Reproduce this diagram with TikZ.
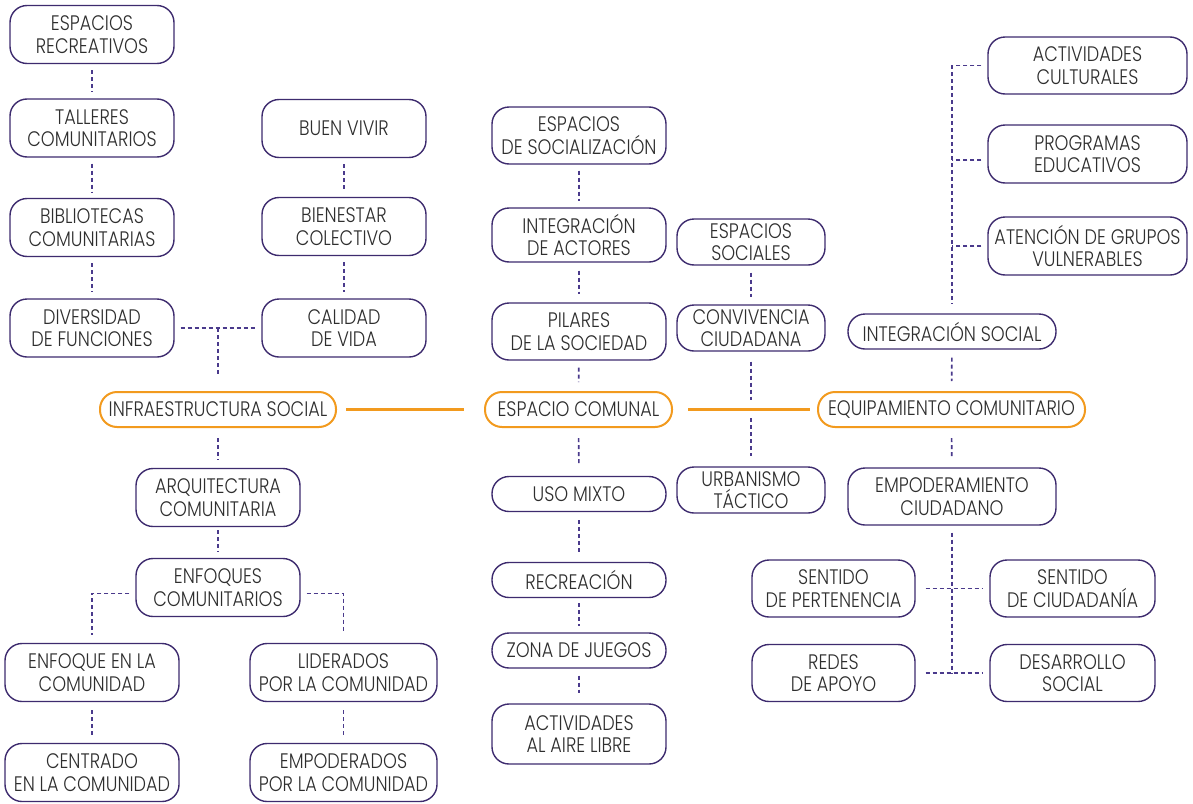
\documentclass[tikz,border=0pt]{standalone}
\usepackage{fontspec}
\setmainfont{Poppins}[UprightFont={* Light},FakeStretch=0.84]
\definecolor{bord}{HTML}{3D2B6E}
\definecolor{dsh}{HTML}{4A3A8C}
\definecolor{txt}{HTML}{2E2E2E}
\definecolor{org}{HTML}{F29A1E}
\tikzset{
  box/.style={draw=bord, line width=1.4pt, rounded corners=17pt, fill=white,
    align=center, inner sep=0pt, text=txt, font=\fontsize{21}{22.5}\selectfont,
    minimum height=58pt},
  obox/.style={box, draw=org, line width=2pt, minimum height=35pt},
  sbox/.style={box, minimum height=35pt},
  dline/.style={draw=dsh, line width=1.6pt, dash pattern=on 4pt off 3pt, shorten <=6pt, shorten >=6pt},
  oline/.style={draw=org, line width=3.5pt}
}
\begin{document}
\begin{tikzpicture}[x=1pt,y=-1pt]
\useasboundingbox (0,0) rectangle (1193,803);
% left column
\node[box,minimum width=164pt] (esprec) at (92,34.5) {ESPACIOS\\RECREATIVOS};
\node[box,minimum width=164pt] (talleres) at (92,128) {TALLERES\\COMUNITARIOS};
\node[box,minimum width=164pt] (biblio) at (92,227.5) {BIBLIOTECAS\\COMUNITARIAS};
\node[box,minimum width=164pt] (divers) at (92,328) {DIVERSIDAD\\DE FUNCIONES};
\node[box,minimum width=164pt] (buen) at (344,128.5) {BUEN VIVIR};
\node[box,minimum width=164pt] (bienestar) at (344,226.5) {BIENESTAR\\COLECTIVO};
\node[box,minimum width=164pt] (calidad) at (344,328) {CALIDAD\\DE VIDA};
\node[obox,minimum width=236pt] (infra) at (218,409.5) {INFRAESTRUCTURA SOCIAL};
\node[box,minimum width=164pt] (arq) at (218,497.5) {ARQUITECTURA\\COMUNITARIA};
\node[box,minimum width=164pt] (enfoques) at (218,587.5) {ENFOQUES\\COMUNITARIOS};
\node[box,minimum width=174pt] (enfoquen) at (92,672.5) {ENFOQUE EN LA\\COMUNIDAD};
\node[box,minimum width=187pt] (liderados) at (343.5,672.5) {LIDERADOS\\POR LA COMUNIDAD};
\node[box,minimum width=174pt] (centrado) at (92,772.5) {CENTRADO\\EN LA COMUNIDAD};
\node[box,minimum width=187pt] (empoderados) at (343.5,772.5) {EMPODERADOS\\POR LA COMUNIDAD};
% middle column
\node[box,minimum width=174pt,minimum height=57pt] (espsoc) at (579,135.5) {ESPACIOS\\DE SOCIALIZACIÓN};
\node[box,minimum width=174pt,minimum height=54pt] (integ) at (579,235) {INTEGRACIÓN\\DE ACTORES};
\node[box,minimum width=174pt,minimum height=57pt] (pilares) at (579,331.5) {PILARES\\DE LA SOCIEDAD};
\node[obox,minimum width=187pt] (comunal) at (578.5,409.5) {ESPACIO COMUNAL};
\node[sbox,minimum width=174pt] (uso) at (579,494) {USO MIXTO};
\node[sbox,minimum width=174pt] (recre) at (579,580) {RECREACIÓN};
\node[sbox,minimum width=174pt] (zona) at (579,650.5) {ZONA DE JUEGOS};
\node[box,minimum width=174pt,minimum height=60pt] (aire) at (579,734) {ACTIVIDADES\\AL AIRE LIBRE};
% fourth column
\node[box,minimum width=148pt,minimum height=46pt] (espsociales) at (751,242) {ESPACIOS\\SOCIALES};
\node[box,minimum width=148pt,minimum height=46pt] (conv) at (751,328) {CONVIVENCIA\\CIUDADANA};
\node[box,minimum width=148pt,minimum height=46pt] (urb) at (751,490) {URBANISMO\\TÁCTICO};
% right
\node[obox,minimum width=267pt] (equip) at (951.5,409.5) {EQUIPAMIENTO COMUNITARIO};
\node[sbox,minimum width=208pt] (integsoc) at (952,331.5) {INTEGRACIÓN SOCIAL};
\node[box,minimum width=208pt,minimum height=57pt] (empod) at (952,496.5) {EMPODERAMIENTO\\CIUDADANO};
\node[box,minimum width=199pt,minimum height=57pt] (actcult) at (1087.5,65.5) {ACTIVIDADES\\CULTURALES};
\node[box,minimum width=199pt,minimum height=58pt] (prog) at (1087.5,154) {PROGRAMAS\\EDUCATIVOS};
\node[box,minimum width=199pt,minimum height=58pt] (atenc) at (1087.5,246) {ATENCIÓN DE GRUPOS\\VULNERABLES};
\node[box,minimum width=163pt,minimum height=57pt] (pert) at (833.5,588.5) {SENTIDO\\DE PERTENENCIA};
\node[box,minimum width=165pt,minimum height=57pt] (ciud) at (1072.5,588.5) {SENTIDO\\DE CIUDADANÍA};
\node[box,minimum width=163pt,minimum height=57pt] (redes) at (833.5,673) {REDES\\DE APOYO};
\node[box,minimum width=165pt,minimum height=57pt] (desar) at (1072.5,673) {DESARROLLO\\SOCIAL};
% helper coordinates
\coordinate (j1) at (infra |- divers.east);
\coordinate (g1) at (751,400);
\coordinate (g2) at (751,418);
\coordinate (rt) at (952,65);
\coordinate (rb) at (952,673);
% orange lines
\draw[oline, shorten <=9pt, shorten >=20pt] (infra.east) -- (comunal.west);
\draw[oline, shorten <=15pt, shorten >=7pt] (comunal.east) -- (equip.west);
% left dashed
\draw[dline] (esprec) -- (talleres);
\draw[dline] (talleres) -- (biblio);
\draw[dline] (biblio) -- (divers);
\draw[dline] (buen) -- (bienestar);
\draw[dline] (bienestar) -- (calidad);
\draw[dline] (divers.east) -- (calidad.west);
\draw[dline, shorten <=0pt, shorten >=15pt] (j1) -- (infra.north);
\draw[dline, shorten <=10pt, shorten >=8pt] (infra) -- (arq);
\draw[dline, shorten <=3pt, shorten >=6pt] (arq) -- (enfoques);
\draw[dline, shorten >=8pt] ([yshift=-6pt]enfoques.west) -| (enfoquen.north);
\draw[dline, shorten >=10pt] ([yshift=-6pt]enfoques.east) -| (liderados.north);
\draw[dline, shorten <=8pt, shorten >=8pt] (enfoquen) -- (centrado);
\draw[dline, shorten <=8pt, shorten >=8pt] (liderados) -- (empoderados);
% middle dashed
\draw[dline] (espsoc) -- (integ);
\draw[dline, shorten <=8pt, shorten >=8pt] (integ) -- (pilares);
\draw[dline, shorten <=7pt, shorten >=9pt] (pilares) -- (comunal);
\draw[dline, shorten <=10pt, shorten >=12pt] (comunal) -- (uso);
\draw[dline, shorten <=8pt, shorten >=10pt] (uso) -- (recre);
\draw[dline, shorten <=5pt, shorten >=6pt] (recre) -- (zona);
\draw[dline, shorten <=7pt, shorten >=10pt] (zona) -- (aire);
% fourth column dashed
\draw[dline, shorten <=7pt, shorten >=7pt] (espsociales) -- (conv);
\draw[dline, shorten <=10pt, shorten >=0pt] (conv.south) -- (g1);
\draw[dline, shorten <=0pt, shorten >=10pt] (g2) -- (urb.north);
% right dashed
\draw[dline, shorten <=0pt, shorten >=10pt] (rt) -- (integsoc.north);
\draw[dline, shorten >=0pt] (actcult.west) -- (actcult.west -| rt);
\draw[dline, shorten >=0pt] ([yshift=-6pt]prog.west) -- ([yshift=-6pt]prog.west -| rt);
\draw[dline, shorten >=0pt] (atenc.west) -- (atenc.west -| rt);
\draw[dline, shorten <=8pt, shorten >=10pt] (integsoc) -- (equip);
\draw[dline, shorten <=10pt, shorten >=10pt] (equip) -- (empod);
\draw[dline, shorten <=7pt, shorten >=0pt] (empod.south) -- (rb);
\draw[dline, shorten <=10pt, shorten >=7pt] (pert.east) -- (ciud.west);
\draw[dline, shorten <=10pt, shorten >=7pt] (redes.east) -- (desar.west);
\end{tikzpicture}
\end{document}
